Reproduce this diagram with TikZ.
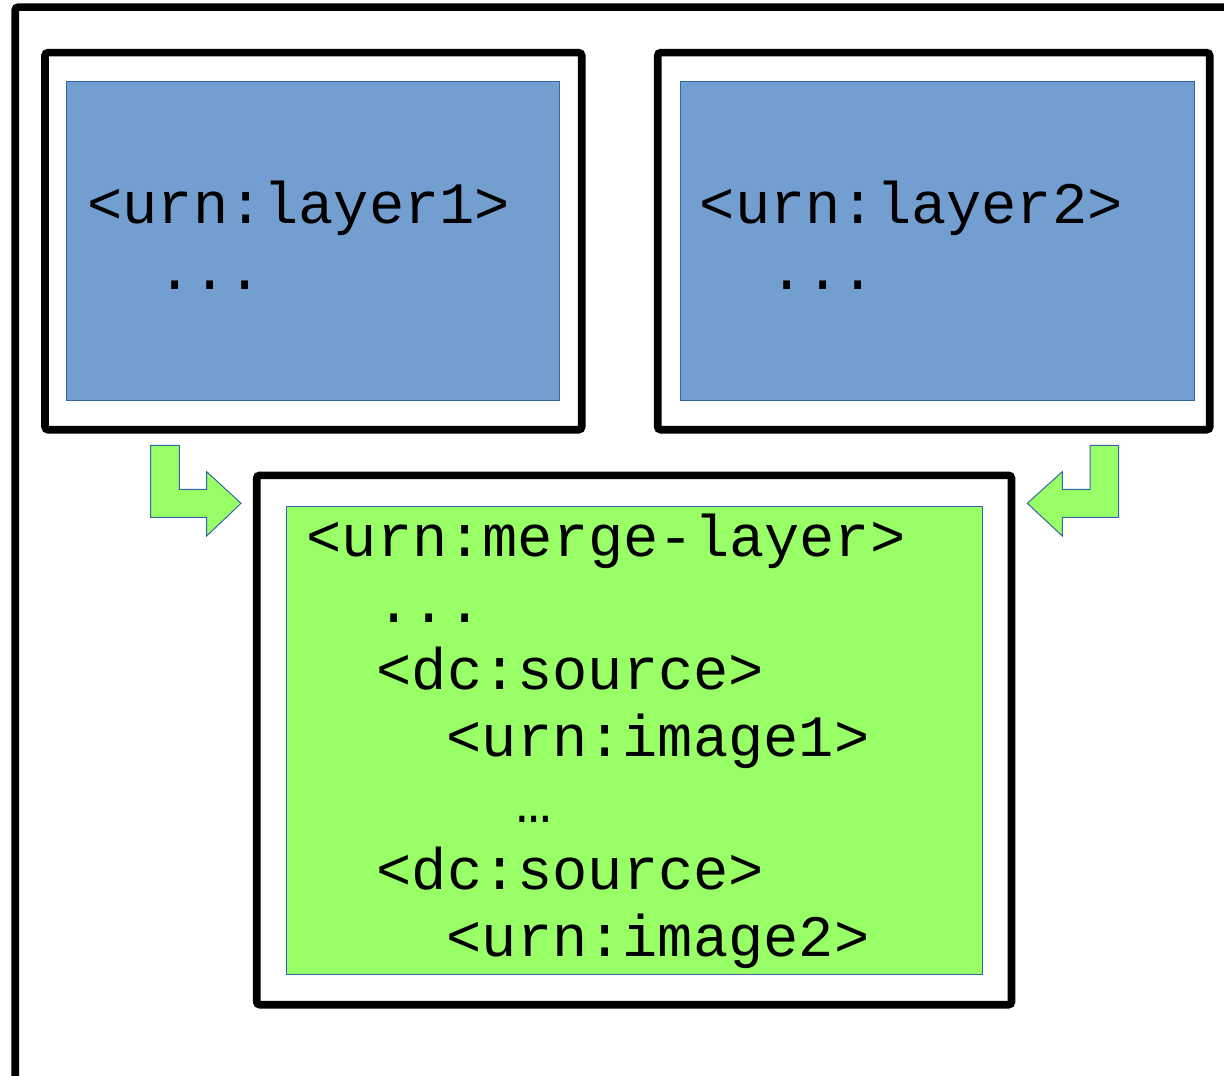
\documentclass[tikz,border=0pt]{standalone}
\usepackage{fontspec}
\setmonofont{Liberation Mono}
\definecolor{layerblue}{HTML}{729FCF}
\definecolor{edgeblue}{HTML}{3465A4}
\definecolor{mergegreen}{HTML}{99FF66}

\begin{document}
\begin{tikzpicture}[x=0.5pt,y=-0.5pt,
  frame/.style={line width=3.8pt,rounded corners=1.5pt},
  layer/.style={fill=layerblue,draw=edgeblue,line width=0.5pt},
  merge/.style={fill=mergegreen,draw=edgeblue,line width=0.5pt},
  bendarrow/.style={fill=mergegreen,draw=edgeblue,line width=0.5pt},
  code/.style={anchor=base west,inner sep=0pt,font=\ttfamily\fontsize{29.35}{29.35}\selectfont}]
\clip (0,0) rectangle (1224,1075);
\draw[frame] (15.2,1100) |- (1260,7.2);
\draw[frame] (45,52.7) rectangle (581.7,429.7);
\draw[frame] (657.7,52.7) rectangle (1209.7,429.7);
\draw[frame] (256.7,475.3) rectangle (1011.5,1004.7);
\draw[layer] (66.7,81.7) rectangle (559.3,400);
\draw[layer] (680,82) rectangle (1194.3,400);
\draw[merge] (286.7,506) rectangle (982,974.3);
\draw[bendarrow] (150.7,445.3) -- (179.3,445.3) -- (179.3,489.3) -- (206.7,489.3)
  -- (206.7,471.7) -- (241,503.3) -- (206.7,536) -- (206.7,517.3) -- (150.7,517.3) -- cycle;
\draw[bendarrow] (1118.7,445.3) -- (1090,445.3) -- (1090,489.3) -- (1062.3,489.3)
  -- (1062.3,471.7) -- (1027.3,503.3) -- (1062.3,536) -- (1062.3,517.3) -- (1118.7,517.3) -- cycle;
\node[code] (l1) at (87,223) {<urn:layer1>};
\node[code] (l1dots) at (157,289) {...};
\node[code] (l2) at (699.5,223) {<urn:layer2>};
\node[code] (l2dots) at (769.5,289) {...};
\node[code] (m) at (306.2,556) {<urn:merge-layer>};
\node[code] (mdots) at (376.2,622.7) {...};
\node[code] (src1) at (376.2,689.3) {<dc:source>};
\node[code] (img1) at (446.2,756) {<urn:image1>};
\node[code] (more) at (516.2,822.7) {…};
\node[code] (src2) at (376.2,889.3) {<dc:source>};
\node[code] (img2) at (446.2,956) {<urn:image2>};
\end{tikzpicture}
\end{document}
